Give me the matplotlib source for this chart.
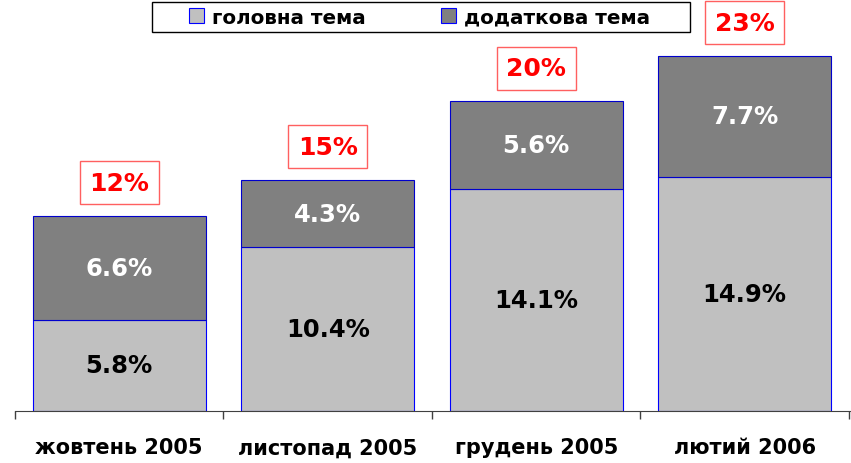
import matplotlib
matplotlib.use("Agg")
import matplotlib.pyplot as plt
from matplotlib.patches import Rectangle
import numpy as np

categories = ["жовтень 2005", "листопад 2005", "грудень 2005", "лютий 2006"]
main_topic = [5.8, 10.4, 14.1, 14.9]
extra_topic = [6.6, 4.3, 5.6, 7.7]
totals = ["12%", "15%", "20%", "23%"]
series_names = ["головна тема", "додаткова тема"]

W, H = 851, 464
fig = plt.figure(figsize=(W / 100, H / 100), dpi=100)
ax = fig.add_axes([15 / W, 1 - 412 / H, 836 / W, 412 / H])

x = np.arange(len(categories))
w = 0.83
b1 = ax.bar(x, main_topic, w, color="#c0c0c0", edgecolor="#0000ff", linewidth=0.8, label=series_names[0])
b2 = ax.bar(x, extra_topic, w, bottom=main_topic, color="#808080", edgecolor="#0000cc", linewidth=0.8, label=series_names[1])

for i in range(len(categories)):
    ax.text(x[i], main_topic[i] / 2, f"{main_topic[i]:.1f}%", ha="center", va="center",
            fontsize=17.5, fontweight="bold", color="black")
    ax.text(x[i], main_topic[i] + extra_topic[i] / 2, f"{extra_topic[i]:.1f}%", ha="center", va="center",
            fontsize=17.5, fontweight="bold", color="white")
    top = main_topic[i] + extra_topic[i]
    ax.text(x[i], top + 2.1, totals[i], ha="center", va="center", fontsize=18, fontweight="bold",
            color="red", bbox=dict(boxstyle="square,pad=0.38", facecolor="white", edgecolor="#ff6060", linewidth=1))

ax.set_xlim(-0.5, 3.5 + 0.01)
ax.set_ylim(0, 26.2)
ax.set_xticks([-0.5, 0.5, 1.5, 2.5, 3.5])
ax.set_xticklabels([])
ax.set_xticks(x, minor=True)
ax.set_xticklabels(categories, minor=True, fontsize=15, fontweight="bold")
ax.tick_params(axis="x", which="major", length=6, color="#404040", width=1)
ax.tick_params(axis="x", which="minor", length=0, pad=19)
ax.set_yticks([])
for s in ["top", "right", "left"]:
    ax.spines[s].set_visible(False)
ax.spines["bottom"].set_color("#404040")

# legend frame
fig.patches.append(Rectangle((152 / W, 1 - 33 / H), (690 - 152) / W, 30 / H, transform=fig.transFigure,
                             facecolor="white", edgecolor="black", linewidth=1, zorder=5))
leg = fig.legend(handles=[b1, b2], labels=series_names, loc="center left", ncol=2,
                 bbox_to_anchor=(189 / W, 1 - 18 / H), frameon=False,
                 prop={"size": 14.3, "weight": "bold"}, handlelength=0.75, handleheight=0.75,
                 columnspacing=3.8, borderpad=0, borderaxespad=0, handletextpad=0.4)
leg.set_zorder(6)
for h in leg.legend_handles:
    h.set_edgecolor("#0000ff")

fig.savefig("out.png", dpi=100)
